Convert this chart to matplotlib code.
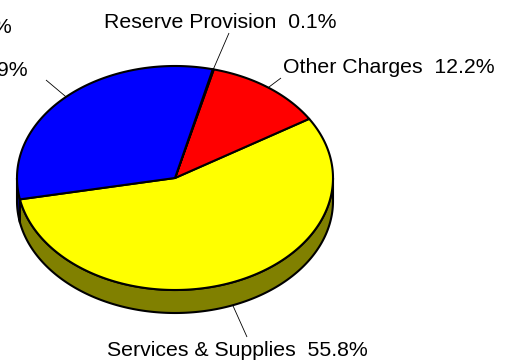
import numpy as np
import matplotlib
matplotlib.use("Agg")
import matplotlib.pyplot as plt
from matplotlib.patches import Polygon

# Budget share by expense category (percent)
categories = ["Services & Supplies", "Other Charges", "Reserve Provision",
              "Fixed Assets", "Salaries & Employee Benefits"]
shares = [55.8, 12.2, 0.1, 0.0, 31.9]
top_colors = ["#ffff00", "#ff0000", "#ff00ff", "#00ffff", "#0000ff"]
side_colors = ["#808000", "#800000", "#800080", "#008080", "#000080"]

# Pie geometry (pixel units of the canvas)
W, H = 509, 362
cx, cy = 175.0, 178.0
rx, ry = 158.0, 112.0
depth = 23.0
start_deg = 191.0

# Label anchors: (x, baseline y, horizontal alignment), leader end point
label_pos = [(368, 355.5, "right"), (495, 73, "right"), (337, 27.5, "right"),
             (11.7, 33, "right"), (28, 75.5, "right")]
leader_end = [(247, 337), (281, 78), (229, 33), None, (46, 80)]

fig = plt.figure(figsize=(W / 100, H / 100), dpi=100)
ax = fig.add_axes([0, 0, 1, 1])
ax.set_xlim(0, W)
ax.set_ylim(H, 0)
ax.axis("off")


def rim(t_deg, dy=0.0):
    t = np.radians(t_deg)
    return cx + rx * np.cos(t), cy - ry * np.sin(t) + dy


total = sum(shares)
spans = [s / total * 360.0 for s in shares]
bounds = start_deg + np.concatenate([[0], np.cumsum(spans)])

# Front side walls (visible where the rim faces down: 180..360 deg)
for i, (t1, t2) in enumerate(zip(bounds[:-1], bounds[1:])):
    if t2 - t1 <= 0:
        continue
    for k in (-1, 0, 1):
        lo = max(t1, 180 + 360 * k)
        hi = min(t2, 360 + 360 * k)
        if hi <= lo:
            continue
        tt = np.linspace(lo, hi, 200)
        xs, ys = rim(tt)
        xb, yb = rim(tt[::-1], depth)
        pts = np.column_stack([np.concatenate([xs, xb]),
                               np.concatenate([ys, yb])])
        ax.add_patch(Polygon(pts, closed=True, facecolor=side_colors[i],
                             edgecolor="black", lw=1.5, joinstyle="round"))

# Top faces
for i, (t1, t2) in enumerate(zip(bounds[:-1], bounds[1:])):
    if t2 - t1 <= 0:
        continue
    tt = np.linspace(t1, t2, max(int((t2 - t1) * 2), 4))
    xs, ys = rim(tt)
    pts = np.column_stack([np.concatenate([[cx], xs]),
                           np.concatenate([[cy], ys])])
    ax.add_patch(Polygon(pts, closed=True, facecolor=top_colors[i],
                         edgecolor="black", lw=1.5, joinstyle="round"))

# Labels with leader lines
for i, name in enumerate(categories):
    mid = (bounds[i] + bounds[i + 1]) / 2.0
    m = mid % 360
    dy = depth if 180 < m < 360 else 0.0
    if leader_end[i] is not None:
        x0, y0 = rim(mid, dy)
        x1, y1 = leader_end[i]
        ax.plot([x0, x1], [y0, y1], color="black", lw=0.6,
                solid_capstyle="butt")
    lx, ly, ha = label_pos[i]
    ax.text(lx, ly, f"{name}  {shares[i]:.1f}%", ha=ha, va="baseline",
            fontsize=15.3, family=["Liberation Sans", "DejaVu Sans"],
            color="black")

fig.savefig("out.png", dpi=100, facecolor="white")
